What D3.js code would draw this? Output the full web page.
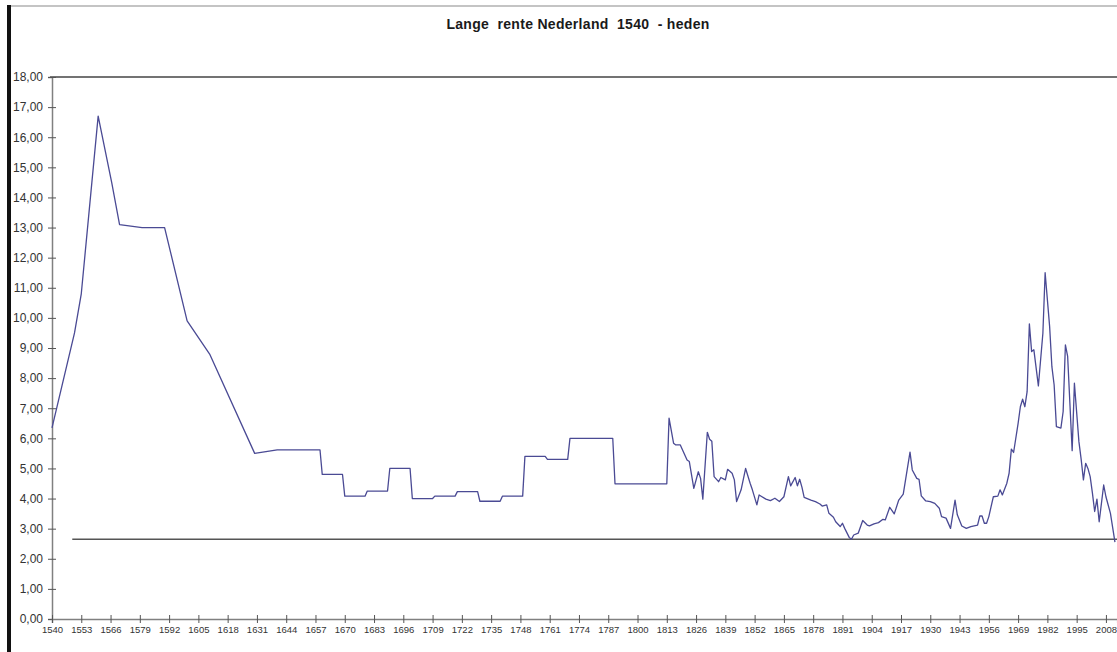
<!DOCTYPE html>
<html>
<head>
<meta charset="utf-8">
<script src="https://cdn.jsdelivr.net/npm/d3@7/dist/d3.min.js"></script>
<style>
  body { margin: 0; background: #fff; }
  svg { display: block; font-family: "Liberation Sans", Arial, sans-serif; }
</style>
</head>
<body>
<div id="chart"></div>
<script>
// Lange rente Nederland (year, percent)
var years = [1540, 1550, 1553, 1560.5, 1566.5, 1570, 1580, 1590, 1600, 1610, 1630, 1640,
  1659, 1660, 1669, 1670, 1679, 1680, 1689, 1690, 1699, 1700, 1709, 1710, 1719, 1720,
  1729, 1730, 1739, 1740, 1749, 1750, 1759, 1760, 1769, 1770, 1789, 1790, 1813, 1814,
  1816, 1817, 1819, 1820, 1822, 1823, 1825, 1827, 1828, 1829, 1831, 1832, 1833, 1834,
  1836, 1837, 1839, 1840, 1842, 1843, 1844, 1846, 1848, 1850, 1851, 1853, 1854, 1857,
  1859, 1861, 1863, 1865, 1867, 1868, 1870, 1871, 1872, 1873, 1874, 1877, 1879, 1881,
  1882, 1884, 1885, 1887, 1888, 1890, 1891, 1892, 1894, 1895, 1896, 1898, 1900, 1902,
  1903, 1905, 1907, 1909, 1910, 1912, 1914, 1916, 1918, 1921, 1922, 1924, 1925, 1926,
  1928, 1930, 1932, 1934, 1935, 1937, 1939, 1941, 1942, 1944, 1946, 1948, 1951, 1952,
  1953, 1954, 1955, 1956, 1958, 1960, 1961, 1962, 1964, 1965, 1966, 1967, 1969, 1970,
  1971, 1972, 1973, 1974, 1975, 1976, 1978, 1980, 1981, 1983, 1984, 1985, 1986, 1988,
  1989, 1990, 1991, 1993, 1994, 1996, 1997, 1998, 1999, 2000, 2001, 2002, 2003, 2004,
  2005, 2007, 2008, 2010, 2012];
var rates = [6.35, 9.5, 10.8, 16.7, 14.5, 13.1, 13.0, 13.0, 9.9, 8.8, 5.5, 5.62,
  5.62, 4.8, 4.8, 4.08, 4.08, 4.25, 4.25, 5.0, 5.0, 4.0, 4.0, 4.08, 4.08, 4.23,
  4.23, 3.91, 3.91, 4.08, 4.08, 5.4, 5.4, 5.3, 5.3, 6.0, 6.0, 4.49, 4.49, 6.67,
  5.84, 5.78, 5.78, 5.61, 5.28, 5.23, 4.34, 4.89, 4.67, 3.98, 6.2, 5.97, 5.9, 4.73,
  4.56, 4.7, 4.62, 4.97, 4.84, 4.62, 3.9, 4.29, 5.0, 4.51, 4.29, 3.79, 4.12, 3.98,
  3.93, 4.01, 3.9, 4.06, 4.73, 4.42, 4.7, 4.42, 4.64, 4.38, 4.04, 3.95, 3.9, 3.82,
  3.75, 3.79, 3.51, 3.38, 3.23, 3.07, 3.18, 3.01, 2.71, 2.65, 2.79, 2.85, 3.27, 3.12,
  3.09, 3.16, 3.2, 3.31, 3.29, 3.71, 3.49, 3.95, 4.15, 5.54, 4.95, 4.67, 4.64, 4.09,
  3.92, 3.9, 3.84, 3.68, 3.4, 3.35, 3.01, 3.95, 3.46, 3.09, 3.01, 3.07, 3.12, 3.42,
  3.42, 3.18, 3.18, 3.4, 4.06, 4.08, 4.29, 4.12, 4.51, 4.84, 5.64, 5.53, 6.5, 7.05,
  7.3, 7.05, 7.55, 9.8, 8.88, 8.94, 7.74, 9.49, 11.5, 9.71, 8.38, 7.77, 6.39, 6.34,
  6.89, 9.1, 8.72, 5.59, 7.83, 5.89, 5.3, 4.62, 5.17, 5.0, 4.73, 4.18, 3.57, 3.98,
  3.23, 4.45, 4.06, 3.51, 2.55];

// horizontal reference line (lowest level)
var refYears = [1549, 2013];
var refRates = [2.65, 2.65];

var tickYears = [1540, 1553, 1566, 1579, 1592, 1605, 1618, 1631, 1644, 1657, 1670, 1683,
  1696, 1709, 1722, 1735, 1748, 1761, 1774, 1787, 1800, 1813, 1826, 1839, 1852, 1865,
  1878, 1891, 1904, 1917, 1930, 1943, 1956, 1969, 1982, 1995, 2008];
var yTicks = [0, 1, 2, 3, 4, 5, 6, 7, 8, 9, 10, 11, 12, 13, 14, 15, 16, 17, 18];

var titleText = "Lange  rente Nederland  1540  - heden";

// Define SVG area dimensions
var svgWidth = 1117;
var svgHeight = 652;

var margin = { top: 77, right: 0, bottom: 33, left: 52 };
var chartHeight = svgHeight - margin.top - margin.bottom;

var svg = d3.select("#chart")
  .append("svg")
  .attr("width", svgWidth)
  .attr("height", svgHeight);

// frame bits of the original screenshot
svg.append("line")
  .attr("x1", 10).attr("x2", svgWidth)
  .attr("y1", 6).attr("y2", 6)
  .attr("stroke", "#b0b0b0")
  .attr("stroke-width", 1.5);

svg.append("rect")
  .attr("x", 7).attr("y", 5)
  .attr("width", 4).attr("height", svgHeight - 5)
  .attr("fill", "#111");

// title
svg.append("text")
  .attr("x", 578)
  .attr("y", 29)
  .attr("text-anchor", "middle")
  .attr("font-size", 14)
  .attr("font-weight", "bold")
  .attr("letter-spacing", 0.3)
  .attr("fill", "#1a1a1a")
  .style("white-space", "pre")
  .text(titleText);

var chartGroup = svg.append("g")
  .attr("transform", `translate(${margin.left}, ${margin.top})`);

// Scales
var xScale = d3.scaleLinear()
  .domain([1540, 2013])
  .range([0, 2013 - 1540].map(d => d * 2.252));

var yScale = d3.scaleLinear()
  .domain([0, 18])
  .range([chartHeight, 0]);

// top border of the plot area
chartGroup.append("line")
  .attr("x1", -2).attr("x2", svgWidth)
  .attr("y1", 0).attr("y2", 0)
  .attr("stroke", "#444")
  .attr("stroke-width", 1.5);

// Axes
var commaFormat = d => d3.format(".2f")(d).replace(".", ",");

var leftAxis = d3.axisLeft(yScale)
  .tickValues(yTicks)
  .tickFormat(commaFormat)
  .tickSize(4)
  .tickPadding(5);

var bottomAxis = d3.axisBottom(xScale)
  .tickValues(tickYears)
  .tickFormat(d3.format("d"))
  .tickSize(4)
  .tickPadding(3);

var yAxisG = chartGroup.append("g").call(leftAxis);
yAxisG.select(".domain").attr("stroke", "#808080").attr("stroke-width", 1.5);
yAxisG.selectAll(".tick line").attr("x1", 4).attr("stroke", "#555");
yAxisG.selectAll(".tick text")
  .attr("font-size", 12)
  .attr("font-family", "'Liberation Sans', Arial, sans-serif")
  .attr("fill", "#333");

var xAxisG = chartGroup.append("g")
  .attr("transform", `translate(0, ${chartHeight})`)
  .call(bottomAxis);
xAxisG.select(".domain").attr("stroke", "#808080").attr("stroke-width", 1.5);
xAxisG.selectAll(".tick line").attr("y1", -4).attr("stroke", "#555");
xAxisG.selectAll(".tick text")
  .attr("font-size", 9.5)
  .attr("font-family", "'Liberation Sans', Arial, sans-serif")
  .attr("fill", "#333");

// Lines
var line = d3.line()
  .x(d => xScale(d[0]))
  .y(d => yScale(d[1]));

chartGroup.append("path")
  .datum(refYears.map((y, i) => [y, refRates[i]]))
  .attr("d", line)
  .attr("fill", "none")
  .attr("stroke", "#555")
  .attr("stroke-width", 1.5);

chartGroup.append("path")
  .datum(years.map((y, i) => [y, rates[i]]))
  .attr("d", line)
  .attr("fill", "none")
  .attr("stroke", "#4a4a94")
  .attr("stroke-width", 1.3)
  .attr("stroke-linejoin", "round");
</script>
</body>
</html>
